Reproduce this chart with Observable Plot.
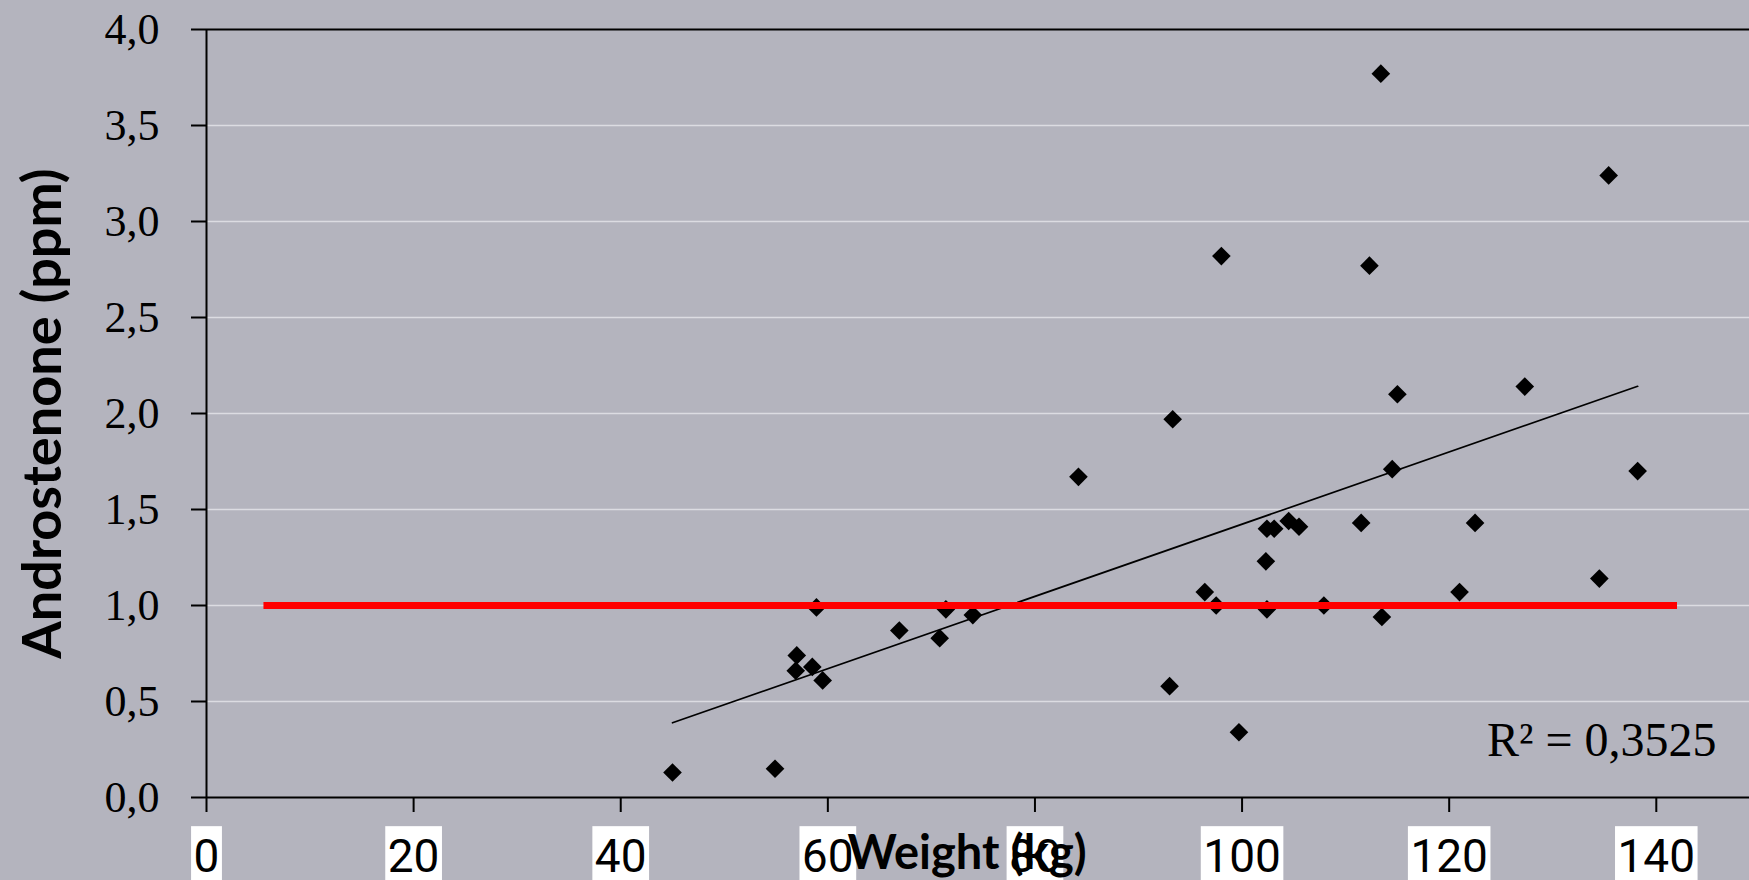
<!DOCTYPE html>
<html><head><meta charset="utf-8">
<script src="https://cdn.jsdelivr.net/npm/d3@7"></script>
<script src="https://cdn.jsdelivr.net/npm/@observablehq/plot@0.6"></script>
<style>
html,body{margin:0;padding:0;background:#b4b4be;overflow:hidden;}
</style></head><body><div id="chart"></div>
<script>
const weight = [45.0, 54.9, 57.0, 56.9, 58.5, 58.9, 59.5, 66.9, 70.8, 71.4, 74.0, 84.2, 93.0, 93.3, 96.4, 97.5, 98.0, 99.7, 102.3, 102.4, 102.4, 103.1, 104.5, 105.5, 107.9, 111.5, 112.3, 113.4, 113.5, 114.5, 115.0, 121.0, 122.5, 127.3, 134.5, 135.4, 138.2];
const androstenone = [0.13, 0.15, 0.74, 0.66, 0.68, 0.99, 0.61, 0.87, 0.83, 0.98, 0.95, 1.67, 0.58, 1.97, 1.07, 1.00, 2.82, 0.34, 1.23, 1.40, 0.98, 1.40, 1.44, 1.41, 1.00, 1.43, 2.77, 3.77, 0.94, 1.71, 2.10, 1.07, 1.43, 2.14, 1.14, 3.24, 1.70];
const thresholdWeight = [5.5, 142];
const thresholdLevel = [1, 1];
const xTickValues = [0, 20, 40, 60, 80, 100, 120, 140];
const yTickValues = [0, 0.5, 1, 1.5, 2, 2.5, 3, 3.5, 4];
const gridValues = [0.5, 1, 1.5, 2, 2.5, 3, 3.5];
const xTitle = "Weight (kg)";
const yTitle = "Androstenone (ppm)";
const r2Label = "R\u00B2 = 0,3525";

const points = weight.map((w, i) => ({weight: w, level: androstenone[i]}));
const threshold = thresholdWeight.map((w, i) => ({weight: w, level: thresholdLevel[i]}));
const comma = d => d.toFixed(1).replace(".", ",");

const chart = Plot.plot({
  width: 1749, height: 880,
  marginLeft: 206, marginRight: 0, marginTop: 29, marginBottom: 83,
  style: {background: "#b4b4be", overflow: "visible", color: "black"},
  x: {domain: [0, 149]},
  y: {domain: [0, 4]},
  marks: [
    Plot.gridY(gridValues, {stroke: "#dcdce2", strokeOpacity: 1, strokeWidth: 1.5}),
    Plot.ruleY([4], {stroke: "black", strokeWidth: 2}),
    Plot.ruleX([0], {stroke: "black", strokeWidth: 2}),
    Plot.ruleY([0], {stroke: "black", strokeWidth: 2}),
    Plot.axisY({ticks: yTickValues, tickFormat: comma, tickSize: 15, tickPadding: 32, strokeWidth: 2, color: "black",
      fontSize: 44, fontFamily: "Liberation Serif", label: null}),
    Plot.axisX({ticks: xTickValues, tickSize: 15, tickPadding: 27, strokeWidth: 2, color: "black",
      fontSize: 46, fontFamily: "Roboto", label: null}),
    Plot.dot(points, {x: "weight", y: "level", symbol: "diamond2", r: 8.4, fill: "black", stroke: "none"}),
    Plot.linearRegressionY(points, {x: "weight", y: "level", ci: 0, stroke: "black", strokeWidth: 1.7}),
    Plot.line(threshold, {x: "weight", y: "level", stroke: "#ff0000", strokeWidth: 7, strokeLinecap: "butt"}),
    Plot.text([r2Label], {text: d => d, frameAnchor: "bottom-right", textAnchor: "end", lineAnchor: "middle", dx: -33, dy: -57,
      fontSize: 48, fontFamily: "Liberation Serif", fill: "black"}),
    Plot.text([xTitle], {text: d => d, frameAnchor: "bottom", textAnchor: "middle", lineAnchor: "middle", dx: -11, dy: 56,
      fontSize: 47, fontWeight: "bold", fontFamily: "Lato", fill: "black"}),
    Plot.text([yTitle], {text: d => d, frameAnchor: "left", rotate: -90, textAnchor: "middle", lineAnchor: "middle", dx: -163,
      fontSize: 54, fontWeight: "bold", fontFamily: "Lato", fill: "black"})
  ]
});
document.getElementById("chart").append(chart);

// white boxes behind the x tick labels
const NS = "http://www.w3.org/2000/svg";
chart.querySelectorAll('g[aria-label="x-axis tick label"] text').forEach(t => {
  const b = t.getBBox();
  const r = document.createElementNS(NS, "rect");
  r.setAttribute("x", b.x - 2.5);
  r.setAttribute("y", b.y - 3);
  r.setAttribute("width", b.width + 5);
  r.setAttribute("height", b.height + 12);
  r.setAttribute("fill", "white");
  const tr = t.getAttribute("transform");
  if (tr) r.setAttribute("transform", tr);
  t.parentNode.insertBefore(r, t);
});
</script></body></html>
